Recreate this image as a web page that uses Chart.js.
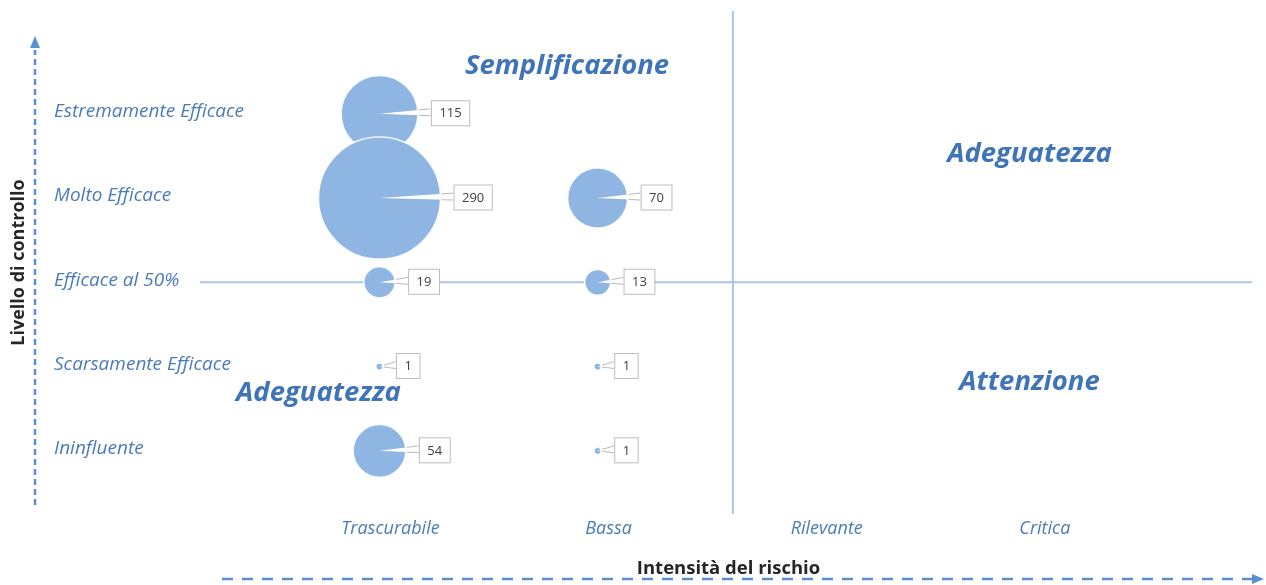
<!DOCTYPE html>
<html lang="it">
<head>
    <meta charset="UTF-8">
    <title>Matrice rischio / controllo</title>
    <script src="https://cdn.jsdelivr.net/npm/chart.js"></script>
    <style>
        html, body { margin: 0; padding: 0; background: #fff; }
        #wrap { position: relative; width: 1266px; height: 585px; }
    </style>
</head>
<body>
    <div id="wrap"><canvas id="matrixChart"></canvas></div>

    <script>
        // Categorie degli assi
        const riskLevels = ['Trascurabile', 'Bassa', 'Rilevante', 'Critica'];
        const controlLevels = ['Ininfluente', 'Scarsamente Efficace', 'Efficace al 50%', 'Molto Efficace', 'Estremamente Efficace'];

        // Una bolla per ogni combinazione (1 = primo livello)
        const bubbleRisk    = [1, 1, 1, 1, 1, 2, 2, 2, 2];
        const bubbleControl = [5, 4, 3, 2, 1, 4, 3, 2, 1];
        const bubbleCount   = [115, 290, 19, 1, 54, 70, 13, 1, 1];

        const quadrantNames = ['Semplificazione', 'Adeguatezza', 'Adeguatezza', 'Attenzione'];

        const FONT = "'Open Sans', sans-serif";
        const BLUE_TEXT = '#3f74b8';
        const MAX_R = 61; // raggio della bolla piu grande, in px
        const maxCount = Math.max(...bubbleCount);

        // bubble size ~ area, come in Excel
        const points = bubbleCount.map((v, i) => ({
            x: bubbleRisk[i],
            y: bubbleControl[i],
            r: MAX_R * Math.sqrt(v / maxCount)
        }));

        const decorPlugin = {
            id: 'decor',
            beforeDatasetsDraw(chart) {
                const { ctx, chartArea: a, scales: { x, y } } = chart;
                ctx.save();

                // linee dei quadranti
                ctx.strokeStyle = '#a8c6ea';
                ctx.lineWidth = 2;
                const vx = x.getPixelForValue(2.62);
                const hy = y.getPixelForValue(3);
                ctx.beginPath();
                ctx.moveTo(vx, a.top);
                ctx.lineTo(vx, a.bottom);
                ctx.moveTo(a.left - 5, hy);
                ctx.lineTo(a.right, hy);
                ctx.stroke();

                // etichette livello di controllo
                ctx.font = 'italic 19px ' + FONT;
                ctx.fillStyle = '#4a7cbc';
                ctx.textAlign = 'left';
                ctx.textBaseline = 'middle';
                controlLevels.forEach((t, i) => {
                    ctx.fillText(t, 54, y.getPixelForValue(i + 1) - 2);
                });

                // nomi dei quadranti
                const qPos = [[1.86, 5.57], [3.98, 4.52], [0.72, 1.69], [3.98, 1.81]];
                ctx.font = 'italic bold 27.5px ' + FONT;
                ctx.fillStyle = BLUE_TEXT;
                ctx.textAlign = 'center';
                quadrantNames.forEach((t, i) => {
                    ctx.fillText(t, x.getPixelForValue(qPos[i][0]), y.getPixelForValue(qPos[i][1]));
                });

                // frecce tratteggiate degli assi
                ctx.strokeStyle = '#5b8fd0';
                ctx.fillStyle = '#5b8fd0';
                ctx.lineWidth = 2.5;
                ctx.setLineDash([6, 4]);
                ctx.beginPath();
                ctx.moveTo(35, 505);
                ctx.lineTo(35, 50);
                ctx.stroke();
                ctx.setLineDash([11, 9]);
                ctx.beginPath();
                ctx.moveTo(222, 579);
                ctx.lineTo(1254, 579);
                ctx.stroke();
                ctx.setLineDash([]);
                ctx.beginPath();
                ctx.moveTo(35, 36); ctx.lineTo(30, 48); ctx.lineTo(40, 48); ctx.closePath();
                ctx.moveTo(1264, 579); ctx.lineTo(1252, 574); ctx.lineTo(1252, 584); ctx.closePath();
                ctx.fill();

                // titolo asse verticale
                ctx.save();
                ctx.translate(19, (a.top + a.bottom) / 2);
                ctx.rotate(-Math.PI / 2);
                ctx.font = 'bold 18px ' + FONT;
                ctx.fillStyle = '#262626';
                ctx.textAlign = 'center';
                ctx.fillText('Livello di controllo', 0, 0);
                ctx.restore();

                ctx.restore();
            },
            afterDatasetsDraw(chart) {
                const { ctx } = chart;
                const meta = chart.getDatasetMeta(0);
                ctx.save();
                ctx.font = '13px ' + FONT;
                ctx.textBaseline = 'middle';
                ctx.textAlign = 'center';
                meta.data.forEach((el, i) => {
                    const cx = el.x, cy = el.y, r = el.options.radius;
                    const txt = String(bubbleCount[i]);
                    const w = ctx.measureText(txt).width + 16, h = 25;
                    const left = cx + r + 13, top = cy - 1 - h / 2;

                    // callout
                    ctx.beginPath();
                    ctx.moveTo(cx, cy);
                    ctx.lineTo(left + 1, cy - 5);
                    ctx.lineTo(left + 1, cy + 2);
                    ctx.closePath();
                    ctx.fillStyle = '#ffffff';
                    ctx.fill();
                    const k = (r + 1) / (left - cx);
                    ctx.strokeStyle = '#b8b8b8';
                    ctx.lineWidth = 1;
                    ctx.beginPath();
                    ctx.moveTo(cx + (left - cx) * k, cy - 5 * k);
                    ctx.lineTo(left, cy - 5);
                    ctx.moveTo(cx + (left - cx) * k, cy + 2 * k);
                    ctx.lineTo(left, cy + 2);
                    ctx.stroke();

                    // box
                    ctx.fillStyle = '#ffffff';
                    ctx.fillRect(left, top, w, h);
                    ctx.strokeStyle = '#bdbdbd';
                    ctx.strokeRect(left + 0.5, top + 0.5, w, h);
                    ctx.fillStyle = '#404040';
                    ctx.fillText(txt, left + w / 2 + 0.5, cy);
                });
                ctx.restore();
            }
        };

        new Chart(document.getElementById('matrixChart'), {
            type: 'bubble',
            data: {
                datasets: [{
                    label: 'Rischi',
                    data: points,
                    backgroundColor: '#8fb6e3',
                    borderColor: 'rgba(255, 255, 255, 0.85)',
                    borderWidth: 1.5,
                    hoverBorderWidth: 1.5
                }]
            },
            options: {
                responsive: true,
                maintainAspectRatio: false,
                animation: false,
                layout: { autoPadding: false, padding: { left: 205, right: 14, top: 11, bottom: 1 } },
                plugins: {
                    legend: { display: false },
                    tooltip: { enabled: false }
                },
                scales: {
                    x: {
                        type: 'linear',
                        min: 0.2,
                        max: 5,
                        border: { display: false },
                        grid: { display: false, drawTicks: false },
                        afterBuildTicks: s => { s.ticks = riskLevels.map((_, i) => ({ value: i + 1 })); },
                        afterFit: s => { s.height = 70; },
                        ticks: {
                            padding: 4,
                            labelOffset: 11,
                            autoSkip: false,
                            maxRotation: 0,
                            color: '#4a7cbc',
                            font: { family: FONT, style: 'italic', size: 18 },
                            callback: v => riskLevels[v - 1] || ''
                        },
                        title: {
                            display: true,
                            text: 'Intensità del rischio',
                            color: '#262626',
                            font: { family: FONT, weight: 'bold', size: 18.5 },
                            padding: { top: 0, bottom: 4 }
                        }
                    },
                    y: {
                        type: 'linear',
                        display: false,
                        min: 0.25,
                        max: 6.22
                    }
                }
            },
            plugins: [decorPlugin]
        });
    </script>
</body>
</html>
